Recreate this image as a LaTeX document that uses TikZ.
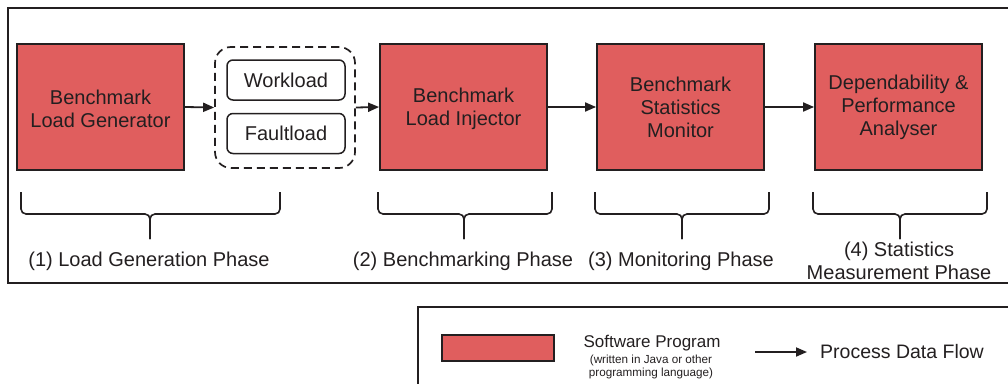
\documentclass[tikz,border=0pt]{standalone}
\usepackage{fontspec}
\setmainfont{Liberation Sans}
\usetikzlibrary{arrows.meta}
\definecolor{boxred}{HTML}{E05E5E}
\definecolor{ink}{HTML}{231F20}
\tikzset{
  prog/.style={draw=ink, line width=1.8pt, fill=boxred, minimum width=167pt, minimum height=126pt,
    align=center, text=ink, font=\fontsize{20}{23}\selectfont, inner sep=0pt},
  loadbox/.style={draw=ink, line width=1.5pt, rounded corners=6pt, minimum width=118pt, minimum height=40pt,
    text=ink, font=\fontsize{20}{23}\selectfont, inner sep=0pt},
  group/.style={draw=ink, line width=1.7pt, dash pattern=on 8pt off 5pt, rounded corners=16pt,
    minimum width=140pt, minimum height=121pt, inner sep=0pt},
  flow/.style={draw=ink, line width=1.8pt, -{Triangle[length=11pt,width=9pt]}},
  bracepath/.style={draw=ink, line width=1.6pt, rounded corners=5pt},
  phase/.style={text=ink, font=\fontsize{20}{23}\selectfont, align=center, inner sep=0pt},
  frame/.style={draw=ink, line width=1.5pt},
}
\begin{document}
\begin{tikzpicture}[x=1pt,y=-1pt]
\useasboundingbox (0,0) rectangle (1008,383);
\clip (0,0) rectangle (1008,383);
% frames
\draw[frame] (1020,8) -- (8,8) -- (8,283) -- (1020,283);
\draw[frame] (1020,307) -- (418,307) -- (418,390);
% main boxes
\node[prog] (gen) at (100.5,107) {};
\node[text=ink, font=\fontsize{20}{23}\selectfont, align=center, inner sep=0pt] (gent) at (100.5,109) {Benchmark\\Load Generator};
\node[group] (grp) at (285,107.5) {};
\node[loadbox] (work) at (286,80) {Workload};
\node[loadbox] (fault) at (286,133.5) {Faultload};
\node[prog] (inj) at (463.5,107) {};
\node[text=ink, font=\fontsize{20}{23}\selectfont, align=center, inner sep=0pt] (injt) at (463.5,109) {Benchmark\\Load Injector};
\node[prog] (mon) at (680.5,107) {Benchmark\\Statistics\\Monitor};
\node[prog] (ana) at (898.5,107) {Dependability \&\\Performance\\Analyser};
% flows
\draw[flow] (gen.east) -- (grp.west);
\draw[flow] (grp.east) -- (inj.west);
\draw[flow] (inj.east) -- (mon.west);
\draw[flow] (mon.east) -- (ana.west);
% braces
\draw[bracepath] (21,192) -- (21,214) -- (150,214) -- (150,239);
\draw[bracepath] (280,192) -- (280,214) -- (150,214) -- (150,239);
\draw[bracepath] (378,192) -- (378,214) -- (464,214) -- (464,239);
\draw[bracepath] (552,192) -- (552,214) -- (464,214) -- (464,239);
\draw[bracepath] (595,192) -- (595,214) -- (682,214) -- (682,239);
\draw[bracepath] (769,192) -- (769,214) -- (682,214) -- (682,239);
\draw[bracepath] (813,192) -- (813,214) -- (900,214) -- (900,239);
\draw[bracepath] (987,192) -- (987,214) -- (900,214) -- (900,239);
% phase labels
\node[phase] (p1) at (149,261) {(1) Load Generation Phase};
\node[phase] (p2) at (463,261) {(2) Benchmarking Phase};
\node[phase] (p3) at (681,261) {(3) Monitoring Phase};
\node[phase] (p4) at (899,261) {(4) Statistics\\Measurement Phase};
% legend
\node[draw=ink, line width=1.8pt, fill=boxred, minimum width=112pt, minimum height=26pt, inner sep=0pt] (legbox) at (498,348) {};
\node[text=ink, font=\fontsize{17}{19}\selectfont, inner sep=0pt] (legsw) at (652,343) {Software Program};
\node[text=ink, font=\fontsize{11.7}{12.5}\selectfont, align=center, inner sep=0pt] (legsub) at (651,367) {(written in Java or other\\programming language)};
\coordinate (la) at (755,352);
\coordinate (lb) at (807,352);
\draw[flow] (la) -- (lb);
\node[text=ink, font=\fontsize{19.5}{22}\selectfont, inner sep=0pt] (legflow) at (902,352) {Process Data Flow};
\end{tikzpicture}
\end{document}
